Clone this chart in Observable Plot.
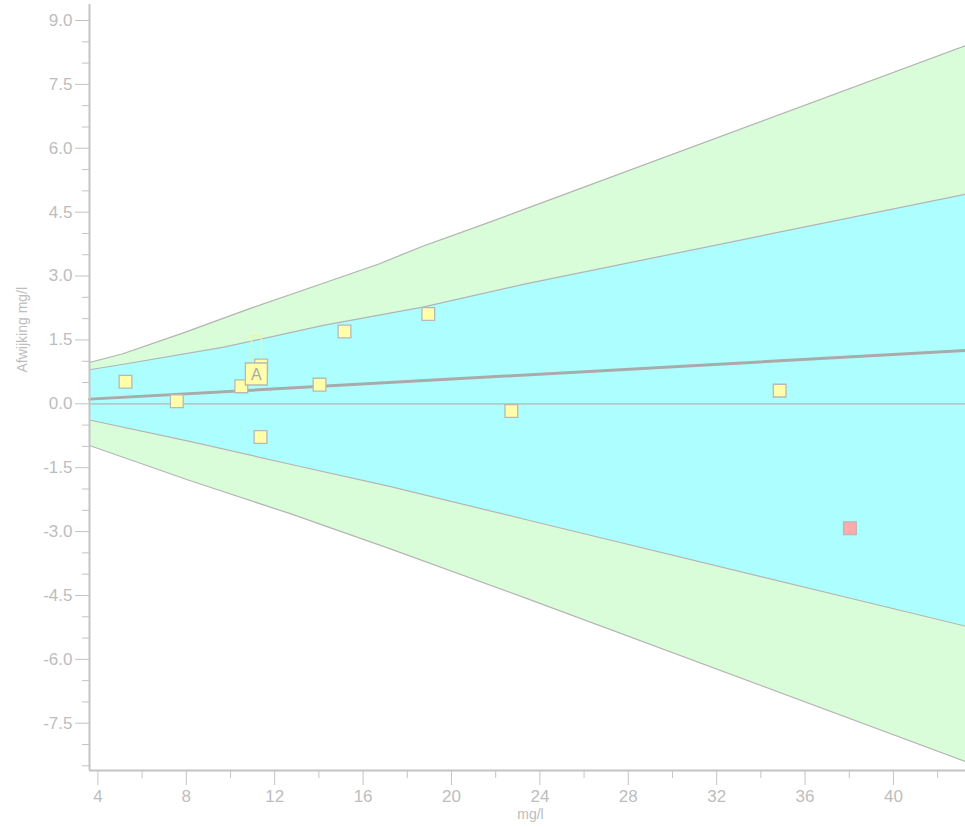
<!DOCTYPE html>
<html>
<head>
<meta charset="utf-8">
<script src="https://cdn.jsdelivr.net/npm/d3@7"></script>
<script src="https://cdn.jsdelivr.net/npm/@observablehq/plot@0.6"></script>
<style>
  html, body { margin: 0; padding: 0; background: #fff; overflow: hidden; }
  #chart svg { display: block; }
</style>
</head>
<body>
<div id="chart"></div>
<script>
// ---- data ----
const outerUpperX = [3.62, 5.1, 7.9, 10.9, 14.2, 16.75, 18.7, 21.7, 23.1, 43.26];
const outerUpperY = [0.97, 1.17, 1.67, 2.24, 2.83, 3.29, 3.70, 4.26, 4.53, 8.41];
const innerUpperX = [3.62, 5.3, 9.7, 14.2, 18.7, 23.3, 43.26];
const innerUpperY = [0.80, 0.94, 1.33, 1.84, 2.27, 2.81, 4.92];
const innerLowerX = [3.62, 8.15, 12.7, 17.2, 23.3, 43.26];
const innerLowerY = [-0.38, -0.88, -1.42, -1.94, -2.71, -5.22];
const outerLowerX = [3.62, 8.15, 12.7, 17.2, 23.3, 43.26];
const outerLowerY = [-0.98, -1.80, -2.58, -3.40, -4.55, -8.40];
const regressionX = [3.62, 43.26];
const regressionY = [0.11, 1.25];

const pointX = [5.25, 7.57, 10.49, 11.39, 14.03, 15.16, 18.95, 11.36, 22.71, 34.85];
const pointY = [0.52, 0.06, 0.41, 0.90, 0.45, 1.70, 2.11, -0.78, -0.17, 0.31];
const outlierX = [38.03];
const outlierY = [-2.92];
const labelX = [11.17];
const labelY = [0.70];
const labelText = ["A"];
const rangeX = [10.97, 11.42];
const rangeY = [1.02, 1.59];

const xTicks = [4, 8, 12, 16, 20, 24, 28, 32, 36, 40];
const xMinorTicks = [6, 10, 14, 18, 22, 26, 30, 34, 38, 42];
const yTicks = [-7.5, -6.0, -4.5, -3.0, -1.5, 0.0, 1.5, 3.0, 4.5, 6.0, 7.5, 9.0];
const yMinorTicks = [-8.5, -8, -7, -6.5, -5.5, -5, -4, -3.5, -2.5, -2, -1, -0.5,
                     0.5, 1, 2, 2.5, 3.5, 4, 5, 5.5, 6.5, 7, 8, 8.5];
const xDomain = [3.62, 43.26];
const yDomain = [-8.61, 9.376];

const zip = (xs, ys) => xs.map((x, i) => ({x, y: ys[i]}));
const outerUpper = zip(outerUpperX, outerUpperY);
const innerUpper = zip(innerUpperX, innerUpperY);
const innerLower = zip(innerLowerX, innerLowerY);
const outerLower = zip(outerLowerX, outerLowerY);
const regression = zip(regressionX, regressionY);
const points = zip(pointX, pointY);
const outliers = zip(outlierX, outlierY);
const labels = labelX.map((x, i) => ({x, y: labelY[i], t: labelText[i]}));
const ranges = [{x1: rangeX[0], x2: rangeX[1], y1: rangeY[0], y2: rangeY[1]}];

const green = "#d9fdd9";
const cyan = "#adffff";
const lineGray = "#b4b4b4";
const textGray = "#bdbdbd";
const axisGray = "#c4c4c4";

const chart = Plot.plot({
  width: 965,
  height: 827,
  marginLeft: 89,
  marginRight: 0,
  marginTop: 4,
  marginBottom: 57,
  style: {fontFamily: "'Liberation Sans', Arial, sans-serif", fontSize: "17px", background: "#fff"},
  x: {domain: xDomain, axis: null},
  y: {domain: yDomain, axis: null},
  marks: [
    // green outer band
    Plot.areaY(outerUpper, {x: "x", y1: 0, y2: "y", fill: green}),
    Plot.areaY(outerLower, {x: "x", y1: 0, y2: "y", fill: green}),
    // cyan inner band
    Plot.areaY(innerUpper, {x: "x", y1: 0, y2: "y", fill: cyan}),
    Plot.areaY(innerLower, {x: "x", y1: 0, y2: "y", fill: cyan}),
    // boundaries
    Plot.line(outerUpper, {x: "x", y: "y", stroke: lineGray, strokeWidth: 1.2}),
    Plot.line(innerUpper, {x: "x", y: "y", stroke: lineGray, strokeWidth: 1.2}),
    Plot.line(innerLower, {x: "x", y: "y", stroke: lineGray, strokeWidth: 1.2}),
    Plot.line(outerLower, {x: "x", y: "y", stroke: lineGray, strokeWidth: 1.2}),
    // zero line
    Plot.ruleY([0], {stroke: lineGray, strokeWidth: 1.2}),
    // regression line
    Plot.line(regression, {x: "x", y: "y", stroke: "#aaaaaa", strokeWidth: 3}),
    // range box near A
    Plot.rect(ranges, {x1: "x1", x2: "x2", y1: "y1", y2: "y2", fill: "none", stroke: "#f5f58a", strokeWidth: 1.3}),
    // data points
    Plot.dot(points, {x: "x", y: "y", symbol: "square", r: 7.2, fill: "#ffffaa", stroke: "#b8b8b8", strokeWidth: 1.3}),
    Plot.dot(outliers, {x: "x", y: "y", symbol: "square", r: 7.2, fill: "#ffaaaa", stroke: "#b8b8b8", strokeWidth: 1.3}),
    // A label
    Plot.dot(labels, {x: "x", y: "y", symbol: "square", r: 12.4, fill: "#ffffaa", stroke: "#b8b8b8", strokeWidth: 1.3}),
    Plot.text(labels, {x: "x", y: "y", text: "t", fill: "#aaaaaa", fontSize: 16, dy: 1}),
    // axis lines
    Plot.ruleX([xDomain[0]], {stroke: axisGray, strokeWidth: 2}),
    Plot.ruleY([yDomain[0]], {stroke: axisGray, strokeWidth: 2}),
    // y axis
    Plot.axisY(yTicks, {tickSize: 14, tickPadding: 3, tickFormat: d => d.toFixed(1), color: textGray, stroke: axisGray, fontSize: 17, label: null}),
    Plot.axisY(yMinorTicks, {tickSize: 7, tickFormat: () => "", stroke: axisGray, label: null}),
    // x axis
    Plot.axisX(xTicks, {tickSize: 15, tickPadding: 4, tickFormat: d => String(d), color: textGray, stroke: axisGray, fontSize: 17, label: null}),
    Plot.axisX(xMinorTicks, {tickSize: 8, tickFormat: () => "", stroke: axisGray, label: null}),
    // axis titles
    Plot.text(["mg/l"], {frameAnchor: "bottom", dx: 3, dy: 48, fill: textGray, fontSize: 14}),
    Plot.text(["Afwijking mg/l"], {frameAnchor: "left", rotate: -90, dx: -67, dy: -15, fill: textGray, fontSize: 14})
  ]
});
document.getElementById("chart").appendChild(chart);
</script>
</body>
</html>
